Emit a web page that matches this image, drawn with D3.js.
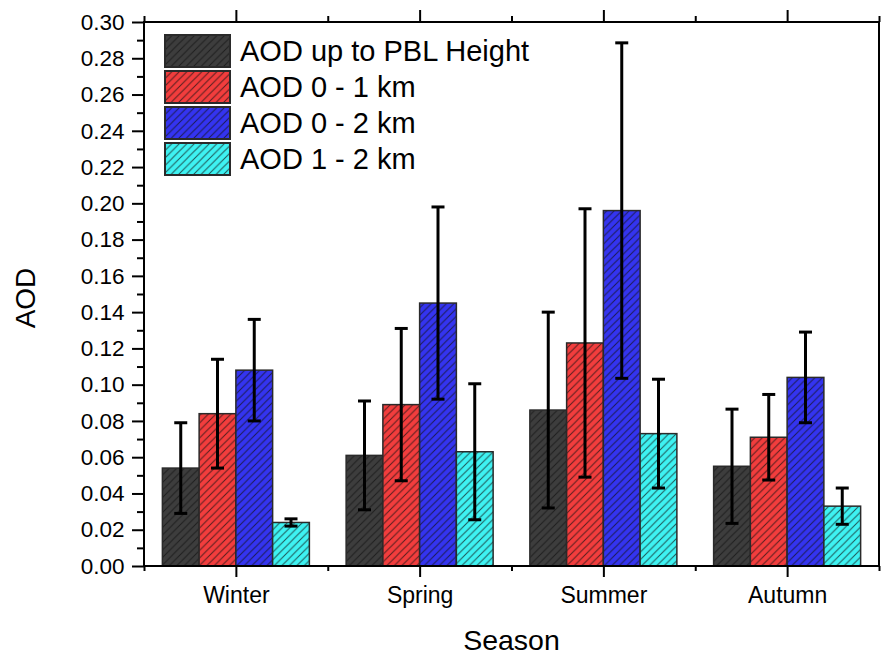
<!DOCTYPE html>
<html>
<head>
<meta charset="utf-8">
<script src="https://cdn.jsdelivr.net/npm/d3@7"></script>
<style>
  body { margin: 0; background: #fff; }
  svg { display: block; font-family: "Liberation Sans", Arial, sans-serif; }
</style>
</head>
<body>
<svg id="chart" width="881" height="657"></svg>
<script>
// seasonal mean AOD per layer, with standard deviation
const seasons = ["Winter", "Spring", "Summer", "Autumn"];
const seriesNames = ["AOD up to PBL Height", "AOD 0 - 1 km", "AOD 0 - 2 km", "AOD 1 - 2 km"];
const aodPBL   = [0.054, 0.061, 0.086, 0.055];
const aod0to1  = [0.084, 0.089, 0.123, 0.071];
const aod0to2  = [0.108, 0.145, 0.196, 0.104];
const aod1to2  = [0.024, 0.063, 0.073, 0.033];
const sdPBL    = [0.025, 0.030, 0.054, 0.0315];
const sd0to1   = [0.030, 0.042, 0.074, 0.0236];
const sd0to2   = [0.028, 0.053, 0.0925, 0.025];
const sd1to2   = [0.002, 0.0375, 0.030, 0.010];
const yTicks = [0.00, 0.02, 0.04, 0.06, 0.08, 0.10, 0.12, 0.14, 0.16, 0.18, 0.20, 0.22, 0.24, 0.26, 0.28, 0.30];

const colors = ["#3d3d3d", "#f23d3d", "#3434f0", "#3ef2f2"];
const values = [aodPBL, aod0to1, aod0to2, aod1to2];
const errors = [sdPBL, sd0to1, sd0to2, sd1to2];

const rows = [];
seasons.forEach((s, i) => {
  values.forEach((v, j) => rows.push({season: i + 1, series: j, value: v[i], sd: errors[j][i]}));
});

const svg = d3.select("#chart");
const plotL = 144, plotR = 879, plotT = 22, plotB = 566;

const x = d3.scaleLinear().domain([0.5, 4.5]).range([plotL, plotR]);
const y = d3.scaleLinear().domain([0, 0.30]).range([plotB, plotT]);
const barW = 0.2;
const bw = x(barW) - x(0);

// hatch patterns, one per series colour
const defs = svg.append("defs");
colors.forEach((c, j) => {
  const p = defs.append("pattern")
      .attr("id", "hatch" + j)
      .attr("patternUnits", "userSpaceOnUse")
      .attr("width", 7.5).attr("height", 7.5);
  p.append("rect").attr("width", 7.5).attr("height", 7.5).attr("fill", c);
  p.append("path")
      .attr("d", "M-1,1 l2,-2 M0,7.5 l7.5,-7.5 M6.5,8.5 l2,-2")
      .attr("stroke", "#111")
      .attr("stroke-opacity", 0.7)
      .attr("stroke-width", 1);
});

// bars
svg.append("g")
  .selectAll("rect")
  .data(rows)
  .join("rect")
    .attr("x", d => x(d.season + (d.series - 1.5) * barW) - bw / 2)
    .attr("y", d => y(d.value))
    .attr("width", bw)
    .attr("height", d => y(0) - y(d.value))
    .attr("fill", d => `url(#hatch${d.series})`)
    .attr("stroke", "#2a2a2a")
    .attr("stroke-width", 1.5);

// error bars
const eb = svg.append("g")
    .attr("stroke", "#000")
    .attr("stroke-width", 3)
  .selectAll("g")
  .data(rows)
  .join("g")
    .attr("transform", d => `translate(${x(d.season + (d.series - 1.5) * barW)},0)`);
eb.append("line")
    .attr("y1", d => y(d.value + d.sd))
    .attr("y2", d => y(d.value - d.sd));
eb.append("line")
    .attr("x1", -6.5).attr("x2", 6.5)
    .attr("y1", d => y(d.value + d.sd)).attr("y2", d => y(d.value + d.sd));
eb.append("line")
    .attr("x1", -6.5).attr("x2", 6.5)
    .attr("y1", d => y(d.value - d.sd)).attr("y2", d => y(d.value - d.sd));

// axes
const fmt = d3.format(".2f");
const minorY = d3.range(1, 30, 2).map(k => k / 100);
const minorX = [0.5, 1.5, 2.5, 3.5, 4.5];

function styleAxis(g) {
  g.select(".domain").remove();
  g.selectAll("line").attr("stroke", "#000").attr("stroke-width", 2);
  g.selectAll("text").attr("fill", "#000").style("font-family", "Liberation Sans, Arial, sans-serif");
}

svg.append("g")
    .attr("transform", `translate(${plotL},0)`)
    .call(d3.axisLeft(y).tickValues(yTicks).tickFormat(fmt).tickSize(12).tickPadding(7.5))
    .call(styleAxis)
    .call(g => g.selectAll("text").style("font-size", "22.5px"));
svg.append("g")
    .attr("transform", `translate(${plotL},0)`)
    .call(d3.axisLeft(y).tickValues(minorY).tickFormat("").tickSize(7))
    .call(styleAxis);

svg.append("g")
    .attr("transform", `translate(0,${plotB})`)
    .call(d3.axisBottom(x).tickValues([1, 2, 3, 4]).tickFormat(i => seasons[i - 1]).tickSize(11).tickPadding(10))
    .call(styleAxis)
    .call(g => g.selectAll("text").style("font-size", "23px"));
svg.append("g")
    .attr("transform", `translate(0,${plotB})`)
    .call(d3.axisBottom(x).tickValues(minorX).tickFormat("").tickSize(5))
    .call(styleAxis);

svg.append("g")
    .attr("transform", `translate(0,${plotT})`)
    .call(d3.axisTop(x).tickValues([1, 2, 3, 4]).tickFormat("").tickSize(12))
    .call(styleAxis);
svg.append("g")
    .attr("transform", `translate(0,${plotT})`)
    .call(d3.axisTop(x).tickValues(minorX).tickFormat("").tickSize(6))
    .call(styleAxis);

// frame
svg.append("rect")
    .attr("x", plotL).attr("y", plotT)
    .attr("width", plotR - plotL).attr("height", plotB - plotT)
    .attr("fill", "none")
    .attr("stroke", "#000")
    .attr("stroke-width", 2);

// axis titles
svg.append("text")
    .attr("x", (plotL + plotR) / 2)
    .attr("y", 650)
    .attr("text-anchor", "middle")
    .style("font-size", "28.5px")
    .text("Season");
svg.append("text")
    .attr("transform", "translate(35,298) rotate(-90)")
    .attr("text-anchor", "middle")
    .style("font-size", "28px")
    .text("AOD");

// legend
const legend = svg.append("g")
  .selectAll("g")
  .data(seriesNames)
  .join("g")
    .attr("transform", (d, j) => `translate(165,${35 + j * 36})`);
legend.append("rect")
    .attr("width", 65).attr("height", 32)
    .attr("fill", (d, j) => `url(#hatch${j})`)
    .attr("stroke", "#2a2a2a")
    .attr("stroke-width", 2);
legend.append("text")
    .attr("x", 75)
    .attr("y", 16)
    .attr("dy", "0.35em")
    .style("font-size", "29px")
    .text(d => d);
</script>
</body>
</html>
